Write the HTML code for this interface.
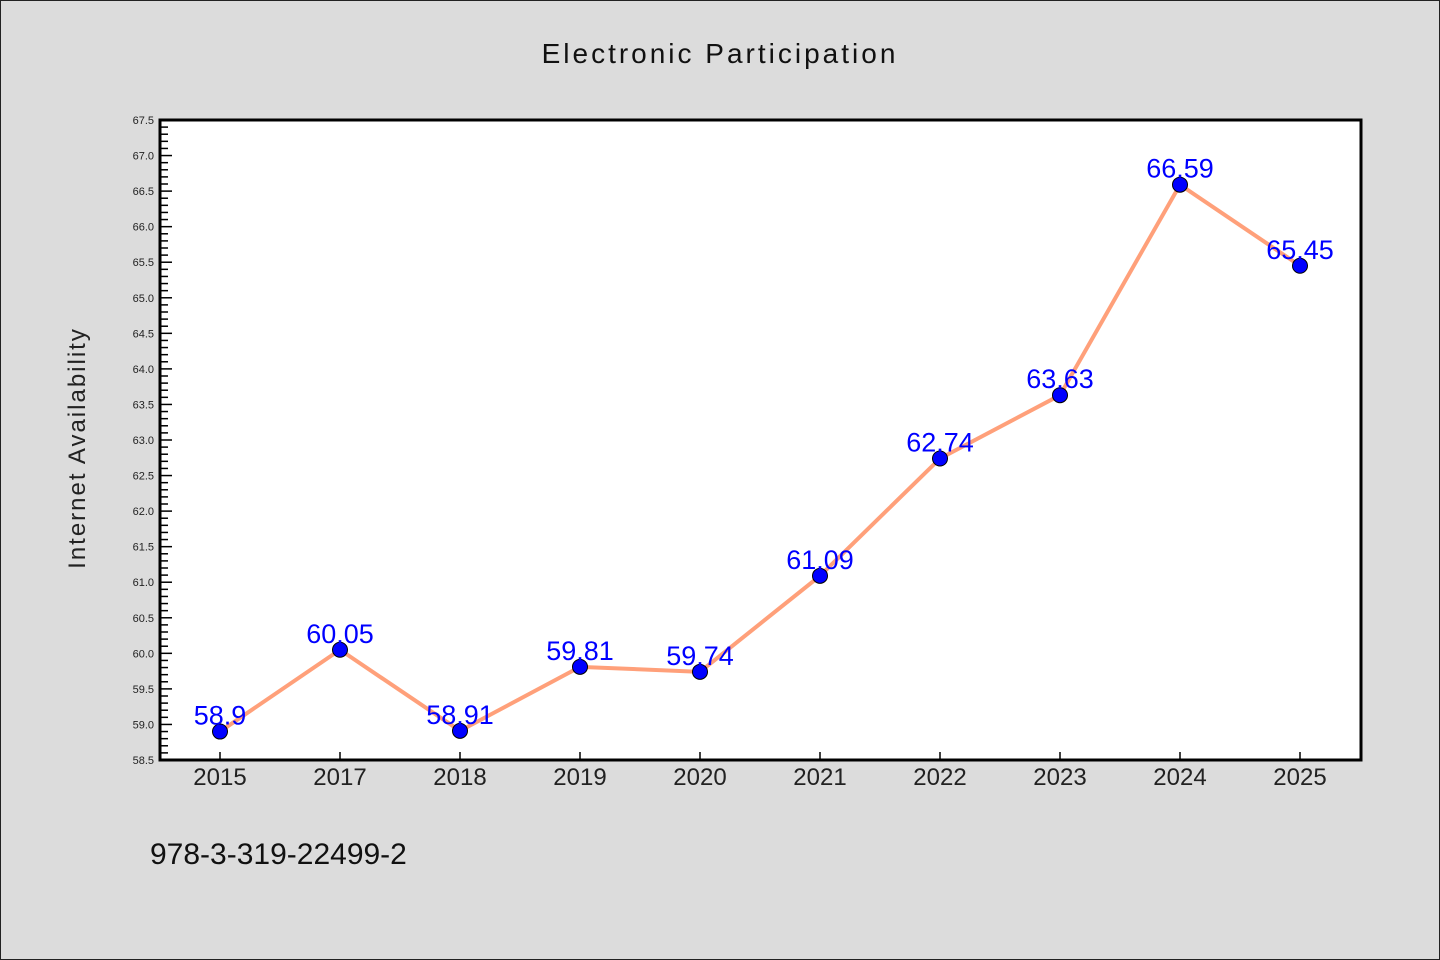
<!DOCTYPE html>
<html><head><meta charset="utf-8"><style>
body{margin:0;background:#dcdcdc;}
svg{display:block;font-family:"Liberation Sans","DejaVu Sans",sans-serif;}
</style></head><body>
<svg id="chart" width="1440" height="960">
<rect x="0.5" y="0.5" width="1439" height="959" fill="#dcdcdc" stroke="#222"/>
<text x="720" y="63" text-anchor="middle" font-size="28" letter-spacing="3" fill="#111">Electronic Participation</text>
<rect x="160" y="120" width="1201" height="640" fill="#fff"/>
<g id="axes"></g>
<g id="marks"></g>
<rect x="160" y="120" width="1201" height="640" fill="none" stroke="#000" stroke-width="3"/>
<text transform="translate(85,448) rotate(-90)" text-anchor="middle" font-size="24" letter-spacing="2" fill="#222">Internet Availability</text>
<text x="150" y="864" font-size="30" fill="#111">978-3-319-22499-2</text>
</svg>
<script>
const categories=["2015","2017","2018","2019","2020","2021","2022","2023","2024","2025"];
const values=[58.9,60.05,58.91,59.81,59.74,61.09,62.74,63.63,66.59,65.45];
const valueLabels=["58.9","60.05","58.91","59.81","59.74","61.09","62.74","63.63","66.59","65.45"];
const yMin=58.5,yMax=67.5;
const NS="http://www.w3.org/2000/svg";
const L=160,R=1361,T=120,B=760;
function xs(i){return 220+i*120;}
function ys(v){return B-(v-yMin)/(yMax-yMin)*(B-T);}
function mk(tag,attrs,parent){const e=document.createElementNS(NS,tag);for(const k in attrs)e.setAttribute(k,attrs[k]);parent.appendChild(e);return e;}
const axes=document.getElementById('axes'),marks=document.getElementById('marks');
for(let k=0;k<=90;k++){
  const v=yMin+k*0.1,y=ys(v),major=k%5===0;
  const t=mk('line',{x1:L,x2:L+(major?12:8),y1:y,y2:y,stroke:'#000','stroke-width':1.5},axes);
  
  
  if(major){
    const lb=mk('text',{x:L-6,y:y+4,'text-anchor':'end','font-size':11,fill:'#222'},axes);
    lb.textContent=v.toFixed(1);
    
    
  }
}
categories.forEach((c,i)=>{
  const x=xs(i);
  const t=mk('line',{x1:x,x2:x,y1:B,y2:B-8,stroke:'#000','stroke-width':1.5},axes);
  
  
  const lb=mk('text',{x:x,y:B+25,'text-anchor':'middle','font-size':24,fill:'#222'},axes);
  lb.textContent=c;
  
  
});
const pl=mk('polyline',{points:values.map((v,i)=>xs(i)+','+ys(v)).join(' '),fill:'none',stroke:'#ffa07a','stroke-width':4},marks);


values.forEach((v,i)=>{
  const c=mk('circle',{cx:xs(i),cy:ys(v),r:7.5,fill:'#0000ff',stroke:'#000','stroke-width':1},marks);
  
  
  const t=mk('text',{x:xs(i),y:ys(v)-7,'text-anchor':'middle','font-size':27,fill:'#0000ff'},marks);
  t.textContent=valueLabels[i];
  
  
});
</script>
</body></html>
